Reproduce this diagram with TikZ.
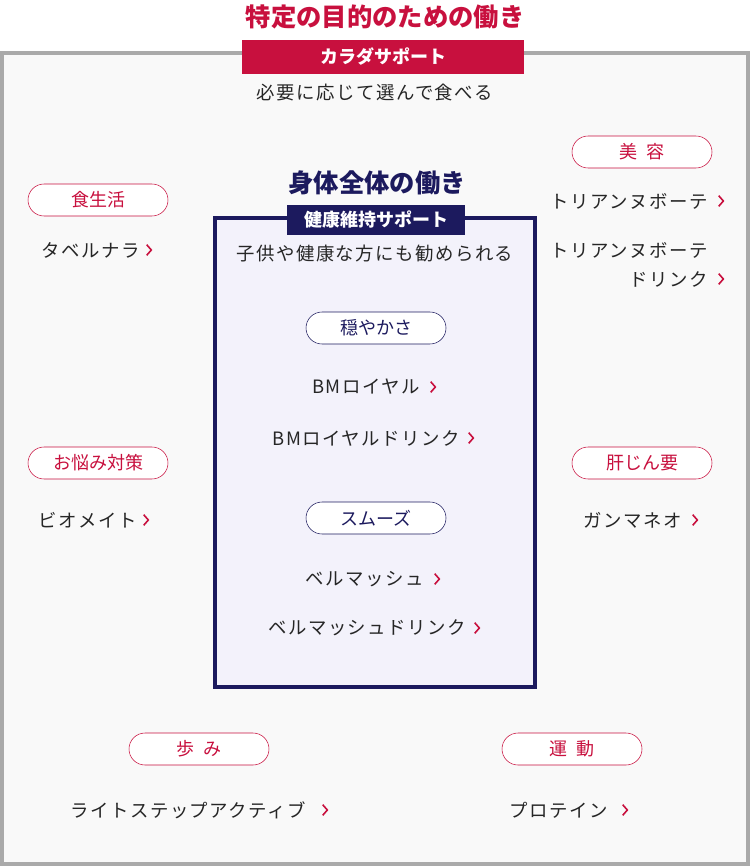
\documentclass[tikz,border=0pt]{standalone}
\usepackage{fontspec}
\setmainfont{Noto Sans CJK JP}
\newfontfamily\spaced[LetterSpace=8]{Noto Sans CJK JP}
\definecolor{cred}{HTML}{C8103E}
\definecolor{cnavy}{HTML}{1C1A5E}
\definecolor{cgray}{HTML}{AAAAAA}
\definecolor{cbg}{HTML}{F9F9F9}
\definecolor{cin}{HTML}{F3F2FB}
\begin{document}
\begin{tikzpicture}[x=0.75pt,y=-0.75pt,
  txt/.style={font=\spaced\fontsize{13.8}{15}\selectfont,text=black!85,inner sep=0pt},
  pillr/.style={draw=cred,text=cred,rounded corners=12pt,minimum width=105pt,minimum height=24pt,inner sep=0pt,fill=white,font=\fontsize{13.5}{15}\selectfont},
  pilln/.style={pillr,draw=cnavy,text=cnavy},
  chev/.style={draw=cred,line width=1.2pt}]
\useasboundingbox (0,0) rectangle (750,866);
\draw[cgray,line width=2.5pt,fill=cbg] (2,53) rectangle (748,864);
\node[text=cred,font=\fontsize{19}{21}\selectfont\bfseries] (title) at (385,17) {特定の目的のための働き};
\node[fill=cred,text=white,minimum width=211.5pt,minimum height=25.5pt,inner sep=0pt,font=\fontsize{13.5}{15}\selectfont\bfseries] (kara) at (383,57) {カラダサポート};
\node[txt] (hitsu) at (375,93) {必要に応じて選んで食べる};
% inner box
\draw[cnavy,line width=2.5pt,fill=cin] (215,218) rectangle (535,687);
\node[text=cnavy,font=\fontsize{19}{21}\selectfont\bfseries] (shin) at (377,183) {身体全体の働き};
\node[fill=cnavy,text=white,minimum width=133.5pt,minimum height=23pt,inner sep=0pt,font=\fontsize{13.5}{15}\selectfont\bfseries] (kenko) at (376,220) {健康維持サポート};
\node[txt] (kodomo) at (375,254) {子供や健康な方にも勧められる};
\node[pilln] (odaya) at (376,328) {穏やかさ};
\node[txt,anchor=east] (bm1) at (420,387) {BMロイヤル};
\node[txt,anchor=east] (bm2) at (460,438) {BMロイヤルドリンク};
\node[pilln] (smooth) at (376,518) {スムーズ};
\node[txt,anchor=east] (be1) at (424,579) {ベルマッシュ};
\node[txt,anchor=east] (be2) at (466,628) {ベルマッシュドリンク};
% left
\node[pillr] (shoku) at (98,200) {食生活};
\node[txt,anchor=east] (tabe) at (140,250) {タベルナラ};
\node[pillr] (onaya) at (98,463) {お悩み対策};
\node[txt,anchor=east] (bio) at (137,520) {ビオメイト};
% right
\node[pillr] (biyo) at (642,152) {美\hspace{0.5em}容};
\node[txt,anchor=east] (tori1) at (708,201) {トリアンヌボーテ};
\node[txt,anchor=east] (tori2) at (708,250) {トリアンヌボーテ};
\node[txt,anchor=east] (tori3) at (708,279) {ドリンク};
\node[pillr] (kan) at (642,463) {肝じん要};
\node[txt,anchor=east] (gan) at (682,520) {ガンマネオ};
% bottom
\node[pillr] (ayumi) at (199,749) {歩\hspace{0.5em}み};
\node[txt,anchor=east] (light) at (306,810) {ライトステップアクティブ};
\node[pillr] (undo) at (572,749) {運\hspace{0.5em}動};
\node[txt,anchor=east] (pro) at (608,810) {プロテイン};
% chevrons
\foreach \n/\d in {bm1/14,bm2/12,be1/14,be2/12,tabe/10,bio/10,tori1/14,tori3/14,gan/14,light/20,pro/18}{
  \draw[chev] ([xshift=\d*0.75pt-2.5pt,yshift=4pt]\n.east) -- ++(3.5pt,-4pt) -- ++(-3.5pt,-4pt);
}
\end{tikzpicture}
\end{document}
